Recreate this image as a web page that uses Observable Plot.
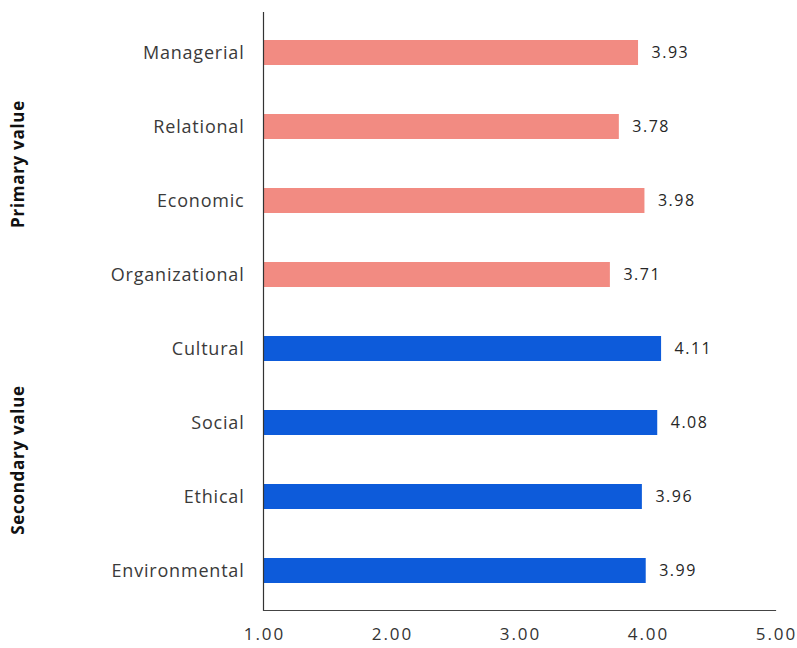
<!DOCTYPE html>
<html>
<head>
<meta charset="utf-8">
<script src="https://cdn.jsdelivr.net/npm/d3@7"></script>
<script src="https://cdn.jsdelivr.net/npm/@observablehq/plot@0.6"></script>
<style>
  html, body { margin: 0; padding: 0; background: #fff; }
  #chart svg { display: block; }
  [aria-description="category-labels"] text, [aria-description="category-labels"] { letter-spacing: 0.8px; }
  [aria-description="value-labels"] text, [aria-description="value-labels"] { letter-spacing: 1.5px; }
  [aria-description="tick-labels"] text, [aria-description="tick-labels"] { letter-spacing: 2px; }
  [aria-description="group-labels"] text, [aria-description="group-labels"] { letter-spacing: 0.7px; }
</style>
</head>
<body>
<div id="chart"></div>
<script>
const categories = ["Managerial", "Relational", "Economic", "Organizational", "Cultural", "Social", "Ethical", "Environmental"];
const values = [3.93, 3.78, 3.98, 3.71, 4.11, 4.08, 3.96, 3.99];
const groups = ["Primary value", "Primary value", "Primary value", "Primary value",
                "Secondary value", "Secondary value", "Secondary value", "Secondary value"];
const groupNames = ["Primary value", "Secondary value"];
const groupColors = ["#F28B82", "#0D5BDA"];
const xTicks = [1, 2, 3, 4, 5];

const data = categories.map((c, i) => ({category: c, value: values[i], group: groups[i]}));
// group label anchored between the 2nd and 3rd category of each group
const groupLabels = groupNames.map(g => {
  const members = data.filter(d => d.group === g);
  return {group: g, anchor: members[1].category};
});

const font = "'Open Sans', Lato, sans-serif";

const chart = Plot.plot({
  width: 797,
  height: 648,
  marginLeft: 263,
  marginRight: 22,
  marginTop: 12,
  marginBottom: 38,
  style: {fontFamily: font, background: "#fff"},
  x: {domain: [1, 5], axis: null},
  y: {domain: categories, paddingInner: 0.665, paddingOuter: 0.3325, axis: null},
  color: {domain: groupNames, range: groupColors},
  marks: [
    Plot.barX(data, {x1: 1, x2: "value", y: "category", fill: "group"}),
    Plot.text(data, {x: "value", y: "category", text: d => d.value.toFixed(2),
      textAnchor: "start", dx: 13, fontSize: 16, fill: "#262626", ariaDescription: "value-labels"}),
    Plot.text(data, {x: 1, y: "category", text: "category", textAnchor: "end",
      dx: -19, fontSize: 18, fill: "#3a3a3a", ariaDescription: "category-labels"}),
    Plot.text(groupLabels, {frameAnchor: "left", y: "anchor", text: "group", rotate: -90,
      textAnchor: "middle", dx: -245, dy: 37, fontSize: 17, fontWeight: "bold", fill: "#111",
      ariaDescription: "group-labels"}),
    Plot.frame({anchor: "bottom", stroke: "#444", strokeWidth: 1.2}),
    Plot.ruleX([1], {stroke: "#333", strokeWidth: 1.2}),
    Plot.text(xTicks, {x: d => d, frameAnchor: "bottom", text: d => d.toFixed(2),
      dy: 29, dx: 1, fontSize: 17, fill: "#333", ariaDescription: "tick-labels"})
  ]
});
document.getElementById("chart").appendChild(chart);
</script>
</body>
</html>
